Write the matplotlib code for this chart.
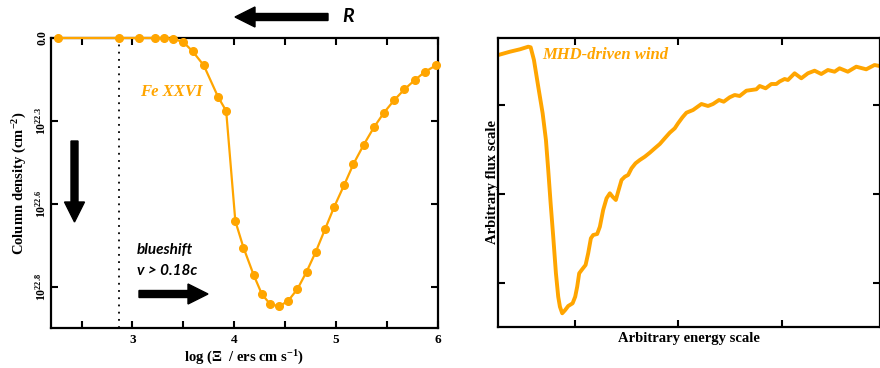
import matplotlib
matplotlib.use("Agg")
import matplotlib.pyplot as plt
from matplotlib.patches import FancyArrow
from matplotlib.transforms import IdentityTransform

# ---------------- data ----------------
# Left panel: Fe XXVI column density vs log xi (y in tick units, inverted)
log_xi = [2.27, 2.87, 3.06, 3.22, 3.31, 3.40, 3.50, 3.59, 3.70, 3.84, 3.92,
          4.01, 4.09, 4.19, 4.27, 4.35, 4.44, 4.53, 4.62, 4.71, 4.80, 4.89,
          4.98, 5.08, 5.17, 5.27, 5.37, 5.47, 5.57, 5.67, 5.77, 5.87, 5.98]
col_dens = [0.0, 0.0, 0.0, 0.0, 0.0, 0.01, 0.05, 0.16, 0.33, 0.71, 0.88,
            2.21, 2.53, 2.86, 3.09, 3.21, 3.24, 3.17, 3.03, 2.82, 2.58, 2.31,
            2.04, 1.77, 1.52, 1.29, 1.08, 0.90, 0.75, 0.62, 0.51, 0.41, 0.33]
ytick_pos = [0, 1, 2, 3]
ytick_labels = ["0.0", r"$10^{22.3}$", r"$10^{22.6}$", r"$10^{22.8}$"]
xtick_major = [3, 4, 5, 6]
xtick_minor = [2.5, 3.5, 4.5, 5.5]
xi_marker = 2.87

# Right panel: MHD-driven wind spectrum (arbitrary units)
energy = [0.3, 12, 22, 30.3, 32.7, 36, 40.3, 44.7, 48, 50.3, 52.7, 55.3, 58,
          60.3, 62, 64.3, 67.3, 70.3, 74.7, 77.3, 79.3, 81.3, 84.3, 87.7, 90.3,
          93, 95.3, 99.3, 102, 105.3, 108.7, 112, 114.7, 118, 120.3, 123.7, 127,
          130.3, 133.7, 137.7, 142, 147, 152, 157, 162, 167, 172, 177, 180.3,
          184.7, 188.7, 195.3, 203.7, 210.3, 215.3, 221.3, 226, 232, 237, 242,
          248.7, 253.7, 258.7, 262, 268, 273.7, 278.7, 282, 287, 290.3, 297,
          303.7, 310.3, 317, 323.7, 330.3, 337, 342, 350.3, 358.7, 368.7, 377, 382]
flux = [272, 275.3, 277.7, 280.3, 279.7, 267, 240.3, 213.7, 187, 157, 123.7,
        90.3, 53.7, 30.3, 20.3, 13.7, 17, 21, 23.7, 30.3, 40.3, 53.7, 57.7, 62,
        73.7, 88.7, 92, 93, 100.3, 117, 128.7, 133.7, 130.3, 127, 135.3, 147,
        150.3, 152, 158.7, 163.7, 167, 170.3, 174.3, 178.7, 183, 188.7, 194.3,
        198.7, 203.7, 209.7, 214.3, 217, 223, 221, 223, 227, 225.3, 229.7, 232,
        231, 236.3, 237, 237.7, 241, 238.7, 243, 243, 245.5, 248, 247, 253.7,
        248.7, 253.7, 256.3, 253, 257, 255.3, 258.7, 255.3, 260.3, 257.7, 262, 261]
e_ticks = [77, 180, 284]
f_ticks = [44, 133, 222]

ORANGE = "#FFA500"

plt.rcParams["font.family"] = ["Liberation Serif", "DejaVu Serif"]
plt.rcParams["font.weight"] = "bold"
plt.rcParams["mathtext.fontset"] = "custom"
plt.rcParams["mathtext.rm"] = "Liberation Serif:bold"
plt.rcParams["mathtext.it"] = "Liberation Serif:bold:italic"
plt.rcParams["mathtext.bf"] = "Liberation Serif:bold"

fig = plt.figure(figsize=(8.8, 3.68), dpi=100)
W, H = 880, 368

def axes_px(l, t, r, b):
    return fig.add_axes([l / W, 1 - b / H, (r - l) / W, (b - t) / H])

# ---------- Left panel ----------
ax = axes_px(51, 38, 438, 328)
ax.plot(log_xi, col_dens, color=ORANGE, lw=1.6, marker="o", ms=5.5,
        clip_on=False, zorder=3)
ax.axvline(xi_marker, color="black", ls=(0, (1, 3)), lw=1.3)
ax.set_xlim(2.2, 6.0)
ax.set_ylim(3.5, 0.0)
ax.set_xticks(xtick_major)
ax.set_xticks(xtick_minor, minor=True)
ax.set_xticklabels([str(v) for v in xtick_major], fontsize=9.5, fontweight="bold")
ax.set_yticks(ytick_pos)
ax.set_yticklabels(ytick_labels, rotation=90, va="center", fontsize=8.5)
ax.tick_params(which="both", direction="in", top=True, right=True, width=1.5)
ax.tick_params(which="major", length=5, pad=4)
ax.tick_params(which="minor", length=5)
ax.tick_params(axis="y", pad=2)
for s in ax.spines.values():
    s.set_linewidth(1.6)
ax.set_xlabel(r"log ($\Xi$  / ers cm s$^{-1}$)", fontsize=10.5, fontweight="bold",
              labelpad=2)
ax.set_ylabel(r"Column density (cm$^{-2}$)", fontsize=10.5, fontweight="bold",
              labelpad=3)
ax.text(3.07, 0.65, "Fe XXVI", color=ORANGE, fontsize=12, fontweight="bold",
        fontstyle="italic", ha="left", va="center")

fig.text(137 / W, 1 - 250 / H, "blueshift", family=["Lato", "DejaVu Sans"],
         fontsize=11, fontweight="bold", fontstyle="italic", ha="left", va="center")
fig.text(137 / W, 1 - 271 / H, "v > 0.18c", family=["Lato", "DejaVu Sans"],
         fontsize=11, fontweight="bold", fontstyle="italic", ha="left", va="center")
fig.text(348 / W, 1 - 17 / H, "R", family=["Lato", "DejaVu Sans"],
         fontsize=14, fontweight="bold", fontstyle="italic", ha="center", va="center")

# arrows (figure pixels)
for (x0, y0, x1, y1) in [(328, 17, 235, 17), (74.5, 141, 74.5, 222), (139, 294, 208, 294)]:
    arr = FancyArrow(x0, H - y0, x1 - x0, -(y1 - y0), width=7, head_width=20,
                     head_length=20, length_includes_head=True, color="black",
                     transform=IdentityTransform())
    fig.add_artist(arr)

# ---------- Right panel ----------
ax2 = axes_px(498, 38, 879.5, 327)
ax2.plot(energy, flux, color=ORANGE, lw=2.8, solid_joinstyle="round")
ax2.set_xlim(0, 382)
ax2.set_ylim(0, 289)
ax2.set_xticks(e_ticks)
ax2.set_yticks(f_ticks)
ax2.set_xticklabels([])
ax2.set_yticklabels([])
ax2.tick_params(direction="in", top=True, right=True, width=1.5, length=5)
for s in ax2.spines.values():
    s.set_linewidth(1.6)
ax2.set_xlabel("Arbitrary energy scale", fontsize=10.5, fontweight="bold", labelpad=0)
ax2.set_ylabel("Arbitrary flux scale", fontsize=10.5, fontweight="bold", labelpad=-4)
ax2.text(44, 272, "MHD-driven wind", color=ORANGE, fontsize=12, fontweight="bold",
         fontstyle="italic", ha="left", va="center")

fig.savefig("out.png", dpi=100)
